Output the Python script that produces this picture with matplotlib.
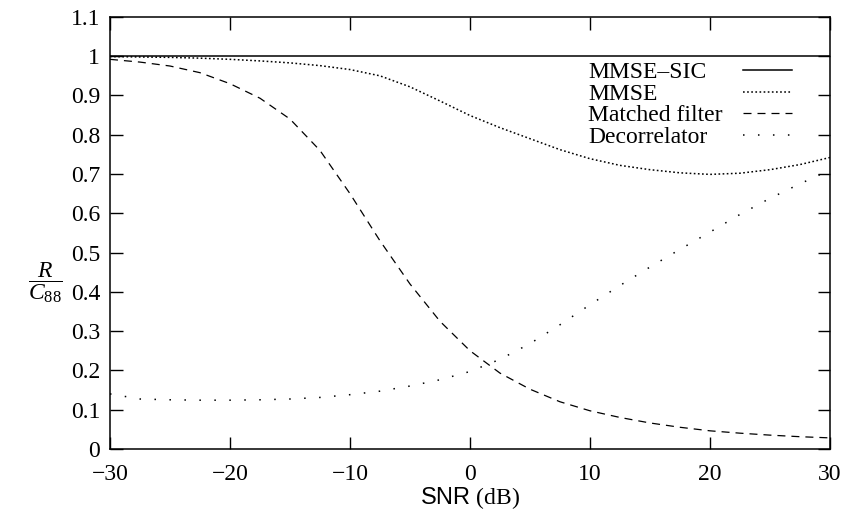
import numpy as np
import matplotlib
matplotlib.use("Agg")
import matplotlib.pyplot as plt
from matplotlib import font_manager

names = {f.name for f in font_manager.fontManager.ttflist}
sans = 'Liberation Sans Narrow' if 'Liberation Sans Narrow' in names else 'Liberation Sans'

plt.rcParams['font.family'] = ['Liberation Serif', 'DejaVu Serif']
plt.rcParams['mathtext.fontset'] = 'custom'
plt.rcParams['mathtext.rm'] = 'Liberation Serif'
plt.rcParams['mathtext.it'] = 'Liberation Serif:italic'
plt.rcParams['mathtext.sf'] = sans

# values
snr = [-30, -27.5, -25, -22.5, -20, -17.5, -15, -12.5, -10, -7.5, -5, -2.5, 0,
       2.5, 5, 7.5, 10, 12.5, 15, 17.5, 20, 22.5, 25, 27.5, 30]
mmse_sic = [1.0] * len(snr)
mmse = [0.999, 0.998, 0.997, 0.995, 0.992, 0.988, 0.983, 0.976, 0.966, 0.950,
        0.922, 0.886, 0.849, 0.818, 0.790, 0.762, 0.739, 0.722, 0.711, 0.703,
        0.699, 0.702, 0.711, 0.724, 0.742]
matched = [0.992, 0.985, 0.975, 0.958, 0.930, 0.893, 0.840, 0.760, 0.650, 0.530,
           0.420, 0.325, 0.250, 0.193, 0.152, 0.120, 0.097, 0.080, 0.066, 0.055,
           0.046, 0.040, 0.035, 0.031, 0.028]
decorr = [0.140, 0.127, 0.125, 0.124, 0.124, 0.125, 0.127, 0.131, 0.138, 0.147,
          0.160, 0.176, 0.197, 0.228, 0.268, 0.316, 0.367, 0.416, 0.463, 0.508,
          0.552, 0.597, 0.638, 0.675, 0.710]

fig = plt.figure(figsize=(8.46, 5.13), dpi=100)
ax = fig.add_axes([0.130, 0.125, 0.851, 0.842])

ax.plot(snr, mmse_sic, color='black', lw=1.1, label='MMSE–SIC')
ax.plot(snr, mmse, color='black', lw=1.1, linestyle=(0, (1.1, 1.6)), label='MMSE')
ax.plot(snr, matched, color='black', lw=0.9, linestyle=(0, (6.4, 4.8)), label='Matched filter')
ax.plot(snr, decorr, color='black', lw=1.1, linestyle=(0, (1.0, 8.8)), label='Decorrelator')

ax.set_xlim(-30, 30)
ax.set_ylim(0, 1.1)
ax.set_xticks(np.arange(-30, 31, 10))
ax.set_yticks(np.arange(0, 1.11, 0.1))
ax.set_yticklabels(['0', '0.1', '0.2', '0.3', '0.4', '0.5', '0.6', '0.7', '0.8', '0.9', '1', '1.1'])
ax.tick_params(direction='in', length=9, width=1, top=True, right=True, labelsize=17)
ax.tick_params(axis='x', pad=11)
ax.tick_params(axis='y', pad=7)
for s in ax.spines.values():
    s.set_linewidth(1.1)

ax.set_xlabel(r'$\mathsf{SNR}$ (dB)', fontsize=17, labelpad=0)
ax.set_ylabel(r'$\dfrac{R}{C_{88}}$', fontsize=17, rotation=0, va='center')
ax.yaxis.set_label_coords(-0.09, 0.385)

leg = ax.legend(loc='upper right', bbox_to_anchor=(0.961, 0.918), frameon=False,
                markerfirst=False, fontsize=17, handlelength=2.1, labelspacing=0.0,
                handletextpad=0.85, borderaxespad=0)

# left-align legend texts: pad each row so the samples line up
fig.canvas.draw()
rend = fig.canvas.get_renderer()
rows = leg._legend_handle_box.get_children()[0].get_children()
widths = [t.get_window_extent(rend).width * 72 / fig.dpi for t in leg.get_texts()]
base = rows[0].sep
for row, w in zip(rows, widths):
    row.sep = base + max(widths) - w

fig.savefig('out.png', dpi=100)
